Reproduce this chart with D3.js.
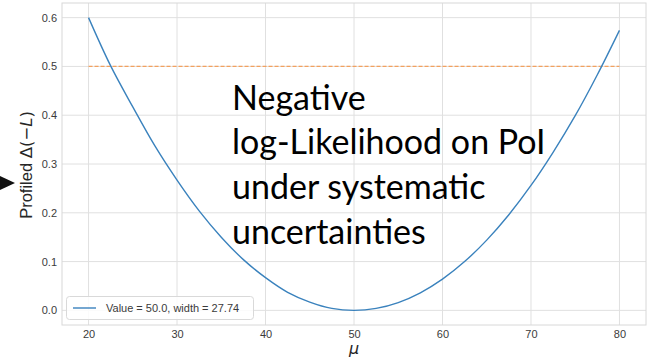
<!DOCTYPE html>
<html>
<head>
<meta charset="utf-8">
<script src="https://cdn.jsdelivr.net/npm/d3@7"></script>
<style>
  html, body { margin: 0; padding: 0; background: #ffffff; }
  svg { display: block; }
</style>
</head>
<body>
<svg id="chart" width="648" height="362"></svg>
<script>
// ---- data ----
const mu = [20, 22.5, 25, 27.5, 30, 32.5, 35, 37.5, 40, 42.5, 45, 47.5, 50,
            52.5, 55, 57.5, 60, 62.5, 65, 67.5, 70, 72.5, 75, 77.5, 80];
const deltaNLL = [0.600, 0.501, 0.417, 0.337, 0.267, 0.204, 0.150, 0.104, 0.067, 0.037, 0.017, 0.004, 0.000,
                  0.004, 0.016, 0.036, 0.064, 0.100, 0.144, 0.196, 0.256, 0.324, 0.399, 0.483, 0.574];
const thresholdX = [20, 80];
const thresholdY = [0.5, 0.5];
const xTicks = [20, 30, 40, 50, 60, 70, 80];
const yTicks = [0.0, 0.1, 0.2, 0.3, 0.4, 0.5, 0.6];
const legendLabel = "Value = 50.0, width = 27.74";
const overlayLines = ["Negative", "log-Likelihood on PoI", "under systematic", "uncertainties"];

(function () {
// ---- layout ----
const svg = d3.select("#chart");
const pL = 62, pR = 646, pT = 3, pB = 325;

const x = d3.scaleLinear().domain([17, 83]).range([pL, pR]);
const y = d3.scaleLinear().domain([-0.03, 0.63]).range([pB, pT]);

const gridColor = "#e0e0e0";
const tickColor = "#3b3b3b";

// grid
const g = svg.append("g");
g.selectAll("line.vx").data(xTicks).join("line")
  .attr("x1", d => x(d)).attr("x2", d => x(d))
  .attr("y1", pT).attr("y2", pB)
  .attr("stroke", gridColor).attr("stroke-width", 1);
g.selectAll("line.hy").data(yTicks).join("line")
  .attr("x1", pL).attr("x2", pR)
  .attr("y1", d => y(d)).attr("y2", d => y(d))
  .attr("stroke", gridColor).attr("stroke-width", 1);

// frame
svg.append("rect").attr("x", pL).attr("y", pT)
  .attr("width", pR - pL).attr("height", pB - pT)
  .attr("fill", "none").attr("stroke", "#d8d8d8").attr("stroke-width", 1);

// axes (tick labels only, via d3 axes)
const xAxis = d3.axisBottom(x).tickValues(xTicks).tickFormat(d3.format("d")).tickSize(0).tickPadding(5);
const yAxis = d3.axisLeft(y).tickValues(yTicks).tickFormat(d3.format(".1f")).tickSize(0).tickPadding(5);
const gx = svg.append("g").attr("transform", `translate(0,${pB})`).call(xAxis);
const gy = svg.append("g").attr("transform", `translate(${pL},0)`).call(yAxis);
[gx, gy].forEach(a => {
  a.select(".domain").remove();
  a.selectAll("text").attr("fill", tickColor)
    .style("font-family", "'Liberation Sans', Arial, sans-serif").style("font-size", "11px");
});

// threshold line
svg.append("path")
  .datum(thresholdX.map((d, i) => [d, thresholdY[i]]))
  .attr("d", d3.line().x(d => x(d[0])).y(d => y(d[1])))
  .attr("fill", "none").attr("stroke", "#f2a15f").attr("stroke-width", 1.4)
  .attr("stroke-dasharray", "4,2");

// curve
svg.append("path")
  .datum(mu.map((d, i) => [d, deltaNLL[i]]))
  .attr("d", d3.line().curve(d3.curveCatmullRom).x(d => x(d[0])).y(d => y(d[1])))
  .attr("fill", "none").attr("stroke", "#3a82bd").attr("stroke-width", 1.4);

// legend
const leg = svg.append("g");
leg.append("rect").attr("x", 66.5).attr("y", 296.5).attr("width", 187).attr("height", 23)
  .attr("rx", 3).attr("fill", "rgba(255,255,255,0.85)").attr("stroke", "#d9d9d9");
leg.append("line").attr("x1", 73).attr("x2", 96).attr("y1", 308).attr("y2", 308)
  .attr("stroke", "#3a82bd").attr("stroke-width", 1.4);
leg.append("text").attr("x", 106).attr("y", 312).text(legendLabel)
  .attr("fill", tickColor).style("font-family", "'Liberation Sans', Arial, sans-serif").style("font-size", "11px");

// axis labels
svg.append("text").attr("x", 354).attr("y", 354).attr("text-anchor", "middle")
  .style("font-family", "'DejaVu Sans', sans-serif").style("font-size", "16px").style("font-style", "italic")
  .attr("fill", "#262626").text("μ");

const yl = svg.append("text").attr("transform", "translate(32,165) rotate(-90)")
  .attr("text-anchor", "middle").attr("fill", "#262626")
  .style("font-family", "'Liberation Sans', Arial, sans-serif").style("font-size", "16.5px");
yl.append("tspan").text("Profiled ");
yl.append("tspan").style("font-family", "'DejaVu Sans', sans-serif").text("Δ(−");
yl.append("tspan").style("font-family", "'DejaVu Sans', sans-serif").style("font-style", "italic").text("L");
yl.append("tspan").style("font-family", "'DejaVu Sans', sans-serif").text(")");

// overlay annotation
const ov = svg.append("text").attr("fill", "#000")
  .style("font-family", "Lato, 'Open Sans', sans-serif").style("font-size", "34px");
overlayLines.forEach((t, i) => {
  ov.append("tspan").attr("x", 232).attr("y", 109.5 + i * 44.7).text(t);
});

// arrow marker on left edge
svg.append("path").attr("d", "M0,176 L15,183 L0,190 Z").attr("fill", "#111");
})();
</script>
</body>
</html>
